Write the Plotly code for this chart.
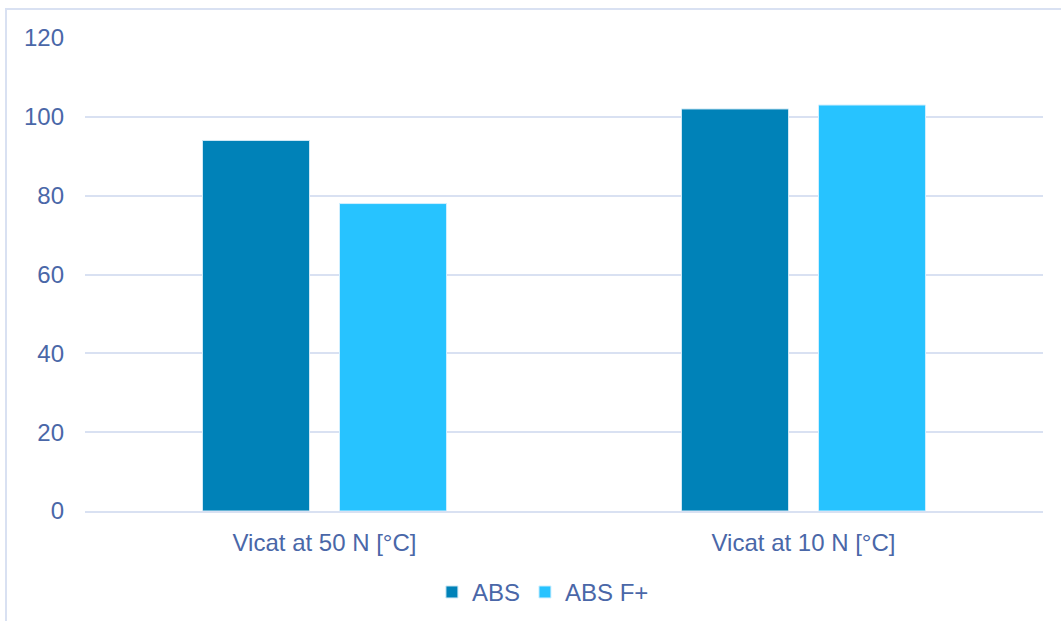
import plotly.graph_objects as go

categories = ["Vicat at 50 N [°C]", "Vicat at 10 N [°C]"]
abs_values = [94, 102]
abs_fplus_values = [78, 103]
y_ticks = [0, 20, 40, 60, 80, 100, 120]

TEXT = "#4A67A8"
GRID = "#D9E1F2"

fig = go.Figure()
fig.add_bar(name="ABS", x=categories, y=abs_values,
            marker=dict(color="#0082B8", line=dict(color="#CFE8F5", width=1)))
fig.add_bar(name="ABS F+", x=categories, y=abs_fplus_values,
            marker=dict(color="#27C3FF", line=dict(color="#CFEFFF", width=1)))

fig.update_layout(
    width=1061, height=621,
    margin=dict(l=85, r=18, t=38, b=110, autoexpand=False),
    paper_bgcolor="white", plot_bgcolor="white",
    font=dict(family="Liberation Sans, Arial, sans-serif", size=24, color=TEXT),
    barmode="group", bargap=0.428, bargroupgap=0.219,
    showlegend=True,
    legend=dict(orientation="h", x=0.478, xanchor="center", y=-0.172, yanchor="middle",
                font=dict(size=24, color=TEXT), itemwidth=30, traceorder="normal"),
    xaxis=dict(showgrid=False, showline=True, linecolor=GRID, linewidth=2,
               ticks="", tickfont=dict(size=24, color=TEXT), ticklabelstandoff=9),
    yaxis=dict(range=[0, 120], tickvals=y_ticks, showgrid=True, gridcolor=GRID,
               gridwidth=1.5, zeroline=False, showline=False, ticks="",
               tickfont=dict(size=24, color=TEXT), ticklabelstandoff=20),
    shapes=[dict(type="rect", xref="paper", yref="paper",
                 x0=(6 - 85) / 958, x1=1.2, y0=-0.5, y1=1 + (38 - 9) / 473,
                 line=dict(color=GRID, width=2), fillcolor="rgba(0,0,0,0)", layer="below")],
)

fig.write_html("out.html")
